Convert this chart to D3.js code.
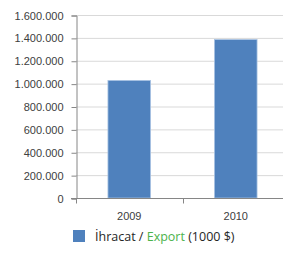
<!DOCTYPE html>
<html><head><meta charset="utf-8">
<script src="https://cdn.jsdelivr.net/npm/d3@7"></script>
<style>body{margin:0;background:#fff;}svg{display:block;}</style>
</head><body>
<svg id="c" width="283" height="253"></svg>
<script>
const categories = ["2009", "2010"];
const values = [1028000, 1385000];
const yTicks = [0, 200000, 400000, 600000, 800000, 1000000, 1200000, 1400000, 1600000];
const legendParts = [["İhracat / ", "#262626"], ["Export", "#4bb34b"], [" (1000 $)", "#262626"]];

(function () {
const svg = d3.select("#c");
const pL = 76, pR = 289, pT = 15, pB = 198;
const x = d3.scaleBand().domain(categories).range([pL, pR]).paddingInner(0.6).paddingOuter(0.3);
const y = d3.scaleLinear().domain([0, 1600000]).range([pB, pT]);
const fmt = v => d3.format(",")(v).replace(/,/g, ".");

// gridlines
svg.append("g").selectAll("line").data(yTicks.filter(d => d > 0)).join("line")
  .attr("x1", pL).attr("x2", 283).attr("y1", d => y(d) + 0.5).attr("y2", d => y(d) + 0.5)
  .attr("stroke", "#d9d9d9").attr("stroke-width", 1);

// bars
svg.append("g").selectAll("rect").data(values).join("rect")
  .attr("x", (d, i) => x(categories[i]))
  .attr("width", x.bandwidth())
  .attr("y", d => y(d))
  .attr("height", d => pB - y(d))
  .attr("fill", "#4f81bd").attr("stroke", "#a9c3e3").attr("stroke-width", 0.8);

// y axis
const ya = d3.axisLeft(y).tickValues(yTicks).tickFormat(fmt).tickSize(5).tickPadding(8);
const gy = svg.append("g").attr("transform", `translate(${pL + 0.5},0.5)`).call(ya);
gy.select(".domain").attr("stroke", "#868686");
gy.selectAll(".tick line").attr("stroke", "#868686");
gy.selectAll("text").attr("font-family", "Liberation Sans, Arial, sans-serif").attr("font-size", 11).attr("fill", "#404040");

// x axis
const xa = d3.axisBottom(x).tickSize(0).tickPadding(14);
const gx = svg.append("g").attr("transform", `translate(0,${pB + 0.5})`).call(xa);
gx.select(".domain").attr("stroke", "#868686").attr("d", `M${pL - 5},0H283`);
gx.selectAll("text").attr("font-family", "Liberation Sans, Arial, sans-serif").attr("font-size", 11).attr("fill", "#404040");
const seps = [pL, (x(categories[0]) + x.bandwidth() + x(categories[1])) / 2];
gx.append("g").selectAll("line").data(seps).join("line")
  .attr("x1", d => Math.round(d) + 0.5).attr("x2", d => Math.round(d) + 0.5)
  .attr("y1", 0).attr("y2", 5).attr("stroke", "#868686");

// legend
svg.append("rect").attr("x", 73).attr("y", 230).attr("width", 12).attr("height", 12).attr("fill", "#4f81bd");
const t = svg.append("text").attr("x", 95).attr("y", 241)
  .attr("font-family", "Open Sans, DejaVu Sans, sans-serif").attr("font-size", 12.5);
legendParts.forEach(([s, c]) => t.append("tspan").text(s).attr("fill", c));
})();
</script>
</body></html>
